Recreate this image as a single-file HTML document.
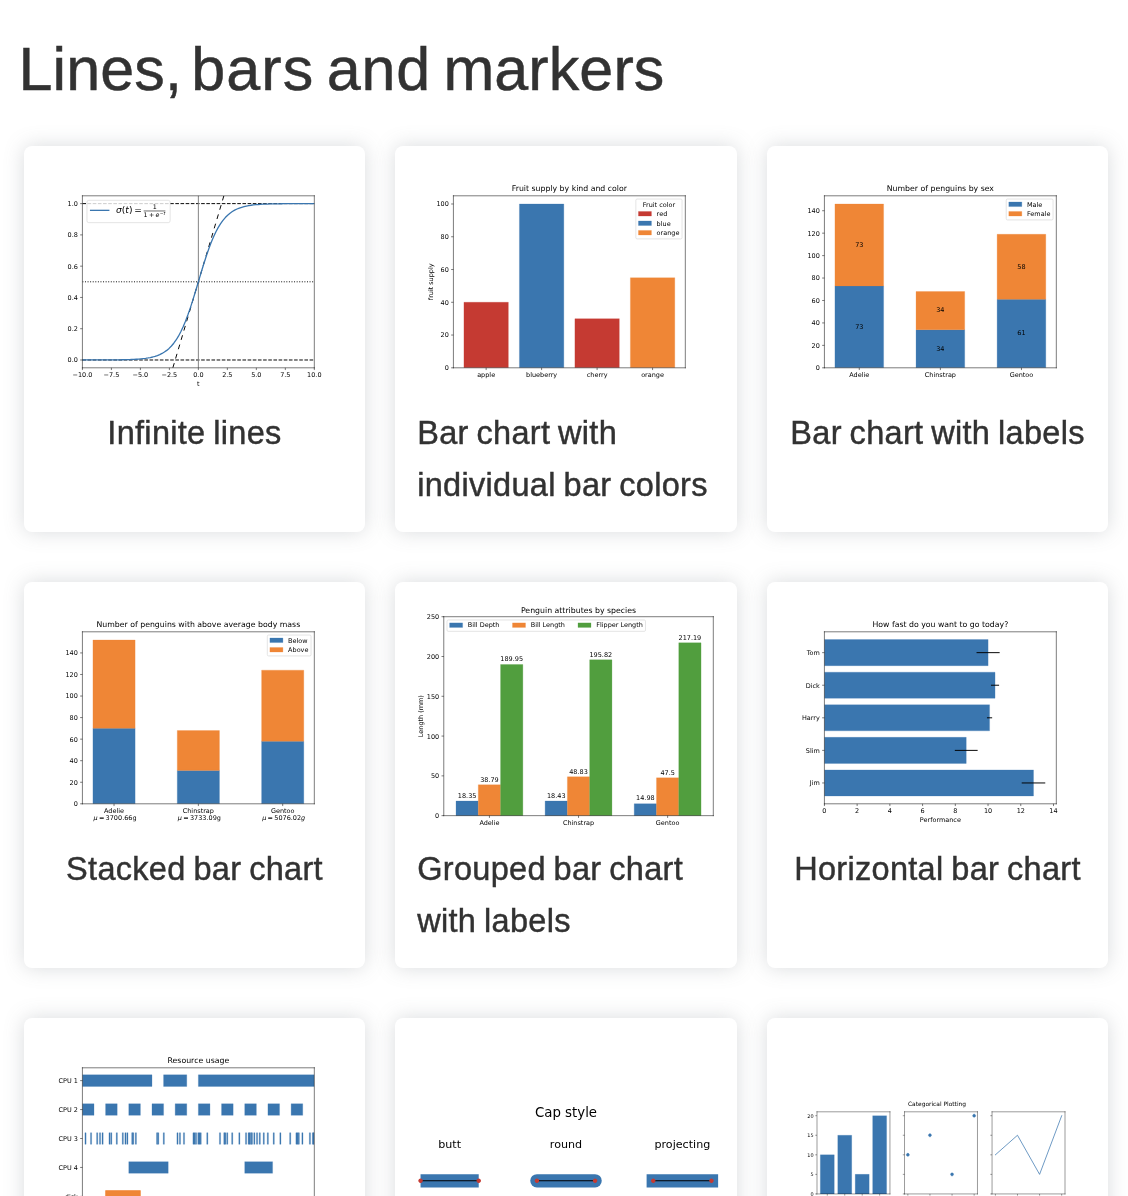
<!DOCTYPE html>
<html lang="en"><head><meta charset="utf-8"><title>Lines, bars and markers</title>
<style>
html,body{margin:0;padding:0;background:#fff;}
body{width:1128px;height:1196px;overflow:hidden;position:relative;font-family:"Liberation Sans",sans-serif;color:#323232;}
h1{position:absolute;left:18.5px;top:29px;margin:0;font-weight:400;font-size:61px;line-height:80px;letter-spacing:0;word-spacing:-4.5px;white-space:nowrap;color:#323232;-webkit-text-stroke:0.5px #323232;}
.card{position:absolute;box-sizing:border-box;height:386px;border-radius:8px;box-shadow:0 0 20px rgba(108,117,125,0.25);background:#fff;}
.title{position:absolute;left:0;right:0;top:261px;text-align:center;font-size:32.5px;line-height:52px;letter-spacing:0.3px;word-spacing:-1.5px;color:#323232;white-space:nowrap;-webkit-text-stroke:0.45px #323232;}
.title.left{text-align:left;left:22.2px;}
svg.mpl{position:absolute;display:block;overflow:hidden;}
svg.mpl *{stroke-linejoin:round;stroke-linecap:butt;}
svg.mpl text{font-family:"DejaVu Sans",sans-serif;}

</style></head><body>
<h1><span style="letter-spacing:.11px">Lines,</span> <span style="letter-spacing:1.1px;margin-left:-3.1px">bars</span> <span style="letter-spacing:.78px">and</span> <span style="letter-spacing:.1px">markers</span></h1>
<div class="card" style="left:24px;top:146px;width:341px"><svg class="mpl" preserveAspectRatio="none" style="left:21.12px;top:22.70px" width="299.25" height="223.38" viewBox="0 0 460.8 345.6"><defs><clipPath id="c1p02d3b5d28d"><rect x="57.6" y="41.472" width="357.12" height="266.112"/></clipPath></defs>
<path d="M 0 345.6 L 460.8 345.6 L 460.8 0 L 0 0 z" style="fill:#ffffff"/>
<path d="M 57.6 307.58 L 414.72 307.58 L 414.72 41.47 L 57.6 41.47 z" style="fill:#ffffff"/>
<path transform="translate(57.6 307.58)" d="M 0 0 L 0 3.5" style="stroke:#000000;stroke-width:0.8"/>
<text x="57.6" y="322.18" style="font-size:10px;text-anchor:middle">−10.0</text>
<path transform="translate(102.24 307.58)" d="M 0 0 L 0 3.5" style="stroke:#000000;stroke-width:0.8"/>
<text x="102.24" y="322.18" style="font-size:10px;text-anchor:middle">−7.5</text>
<path transform="translate(146.88 307.58)" d="M 0 0 L 0 3.5" style="stroke:#000000;stroke-width:0.8"/>
<text x="146.88" y="322.18" style="font-size:10px;text-anchor:middle">−5.0</text>
<path transform="translate(191.52 307.58)" d="M 0 0 L 0 3.5" style="stroke:#000000;stroke-width:0.8"/>
<text x="191.52" y="322.18" style="font-size:10px;text-anchor:middle">−2.5</text>
<path transform="translate(236.16 307.58)" d="M 0 0 L 0 3.5" style="stroke:#000000;stroke-width:0.8"/>
<text x="236.16" y="322.18" style="font-size:10px;text-anchor:middle">0.0</text>
<path transform="translate(280.8 307.58)" d="M 0 0 L 0 3.5" style="stroke:#000000;stroke-width:0.8"/>
<text x="280.8" y="322.18" style="font-size:10px;text-anchor:middle">2.5</text>
<path transform="translate(325.44 307.58)" d="M 0 0 L 0 3.5" style="stroke:#000000;stroke-width:0.8"/>
<text x="325.44" y="322.18" style="font-size:10px;text-anchor:middle">5.0</text>
<path transform="translate(370.08 307.58)" d="M 0 0 L 0 3.5" style="stroke:#000000;stroke-width:0.8"/>
<text x="370.08" y="322.18" style="font-size:10px;text-anchor:middle">7.5</text>
<path transform="translate(414.72 307.58)" d="M 0 0 L 0 3.5" style="stroke:#000000;stroke-width:0.8"/>
<text x="414.72" y="322.18" style="font-size:10px;text-anchor:middle">10.0</text>
<text x="236.16" y="335.86" style="font-size:10px;text-anchor:middle">t</text>
<path transform="translate(57.6 295.49)" d="M 0 0 L -3.5 0" style="stroke:#000000;stroke-width:0.8"/>
<text x="50.6" y="299.29" style="font-size:10px;text-anchor:end">0.0</text>
<path transform="translate(57.6 247.1)" d="M 0 0 L -3.5 0" style="stroke:#000000;stroke-width:0.8"/>
<text x="50.6" y="250.9" style="font-size:10px;text-anchor:end">0.2</text>
<path transform="translate(57.6 198.72)" d="M 0 0 L -3.5 0" style="stroke:#000000;stroke-width:0.8"/>
<text x="50.6" y="202.52" style="font-size:10px;text-anchor:end">0.4</text>
<path transform="translate(57.6 150.34)" d="M 0 0 L -3.5 0" style="stroke:#000000;stroke-width:0.8"/>
<text x="50.6" y="154.14" style="font-size:10px;text-anchor:end">0.6</text>
<path transform="translate(57.6 101.95)" d="M 0 0 L -3.5 0" style="stroke:#000000;stroke-width:0.8"/>
<text x="50.6" y="105.75" style="font-size:10px;text-anchor:end">0.8</text>
<path transform="translate(57.6 53.57)" d="M 0 0 L -3.5 0" style="stroke:#000000;stroke-width:0.8"/>
<text x="50.6" y="57.37" style="font-size:10px;text-anchor:end">1.0</text>
<path d="M 57.6 295.49 L 414.72 295.49" clip-path="url(#c1p02d3b5d28d)" style="fill:none;stroke-dasharray:5.55,2.4;stroke-dashoffset:0;stroke:#000000;stroke-width:1.5"/>
<path d="M 57.6 174.53 L 414.72 174.53" clip-path="url(#c1p02d3b5d28d)" style="fill:none;stroke-dasharray:1.5,2.475;stroke-dashoffset:0;stroke:#000000;stroke-width:1.5"/>
<path d="M 57.6 53.57 L 414.72 53.57" clip-path="url(#c1p02d3b5d28d)" style="fill:none;stroke-dasharray:5.55,2.4;stroke-dashoffset:0;stroke:#000000;stroke-width:1.5"/>
<path d="M 236.16 307.58 L 236.16 41.47" clip-path="url(#c1p02d3b5d28d)" style="fill:none;stroke:#808080;stroke-width:1.5;stroke-linecap:square"/>
<path d="M 196.88 307.58 L 275.44 41.47" clip-path="url(#c1p02d3b5d28d)" style="fill:none;stroke-dasharray:7.5,7.5;stroke-dashoffset:0;stroke:#000000;stroke-width:1.5"/>
<path d="M 57.6 295.48 L 61.21 295.47 L 64.81 295.47 L 68.42 295.47 L 72.03 295.46 L 75.64 295.46 L 79.24 295.45 L 82.85 295.44 L 86.46 295.43 L 90.07 295.42 L 93.67 295.41 L 97.28 295.39 L 100.89 295.36 L 104.49 295.34 L 108.1 295.3 L 111.71 295.26 L 115.32 295.21 L 118.92 295.15 L 122.53 295.07 L 126.14 294.98 L 129.75 294.87 L 133.35 294.73 L 136.96 294.56 L 140.57 294.35 L 144.17 294.1 L 147.78 293.79 L 151.39 293.41 L 155 292.95 L 158.6 292.39 L 162.21 291.7 L 165.82 290.87 L 169.43 289.86 L 173.03 288.64 L 176.64 287.16 L 180.25 285.37 L 183.85 283.22 L 187.46 280.64 L 191.07 277.56 L 194.68 273.9 L 198.28 269.59 L 201.89 264.53 L 205.5 258.66 L 209.11 251.9 L 212.71 244.21 L 216.32 235.57 L 219.93 226.01 L 223.53 215.59 L 227.14 204.44 L 230.75 192.72 L 234.36 180.63 L 237.96 168.42 L 241.57 156.34 L 245.18 144.62 L 248.79 133.46 L 252.39 123.04 L 256 113.48 L 259.61 104.85 L 263.21 97.16 L 266.82 90.4 L 270.43 84.52 L 274.04 79.47 L 277.64 75.15 L 281.25 71.5 L 284.86 68.42 L 288.47 65.84 L 292.07 63.69 L 295.68 61.9 L 299.29 60.42 L 302.89 59.2 L 306.5 58.19 L 310.11 57.35 L 313.72 56.67 L 317.32 56.11 L 320.93 55.65 L 324.54 55.27 L 328.15 54.96 L 331.75 54.71 L 335.36 54.5 L 338.97 54.33 L 342.57 54.19 L 346.18 54.08 L 349.79 53.98 L 353.4 53.91 L 357 53.85 L 360.61 53.8 L 364.22 53.75 L 367.83 53.72 L 371.43 53.69 L 375.04 53.67 L 378.65 53.65 L 382.25 53.64 L 385.86 53.62 L 389.47 53.61 L 393.08 53.6 L 396.68 53.6 L 400.29 53.59 L 403.9 53.59 L 407.51 53.58 L 411.11 53.58 L 414.72 53.58" clip-path="url(#c1p02d3b5d28d)" style="fill:none;stroke:#3a76af;stroke-width:2;stroke-linecap:square"/>
<path d="M 57.6 307.58 L 57.6 41.47" style="fill:none;stroke:#000000;stroke-width:0.8;stroke-linejoin:miter;stroke-linecap:square"/>
<path d="M 414.72 307.58 L 414.72 41.47" style="fill:none;stroke:#000000;stroke-width:0.8;stroke-linejoin:miter;stroke-linecap:square"/>
<path d="M 57.6 307.58 L 414.72 307.58" style="fill:none;stroke:#000000;stroke-width:0.8;stroke-linejoin:miter;stroke-linecap:square"/>
<path d="M 57.6 41.47 L 414.72 41.47" style="fill:none;stroke:#000000;stroke-width:0.8;stroke-linejoin:miter;stroke-linecap:square"/>
<path d="M 67.4 82.97 L 189.9 82.97 Q 192.7 82.97 192.7 80.17 L 192.7 51.27 Q 192.7 48.47 189.9 48.47 L 67.4 48.47 Q 64.6 48.47 64.6 51.27 L 64.6 80.17 Q 64.6 82.97 67.4 82.97 z" style="fill:#ffffff;opacity:0.8;stroke:#cccccc;stroke-linejoin:miter"/>
<path d="M 70.2 63.97 L 84.2 63.97 L 98.2 63.97" style="fill:none;stroke:#3a76af;stroke-width:2;stroke-linecap:square"/>
<g transform="translate(109.4 68.87)">
<text><tspan x="0" y="-0.72" style="font-style:oblique;font-size:14px">σ</tspan><tspan x="14.33" y="-0.72" style="font-style:oblique;font-size:14px">t</tspan><tspan x="8.87" y="-0.72" style="font-size:14px">(</tspan><tspan x="19.82" y="-0.72" style="font-size:14px">)</tspan><tspan x="28.01" y="-0.72" style="font-size:14px">=</tspan><tspan x="42.47" y="6.08" style="font-size:9.8px">1</tspan><tspan x="50.62" y="6.08" style="font-size:9.8px">+</tspan><tspan x="56.47" y="-6.86" style="font-size:9.8px">1</tspan><tspan x="60.74" y="6.08" style="font-style:oblique;font-size:9.8px">e</tspan><tspan x="67.22" y="2.33" style="font-size:6.86px">−</tspan><tspan x="72.97" y="2.33" style="font-style:oblique;font-size:6.86px">t</tspan></text>
<rect x="42.472" y="-4.358" width="33.456" height="0.875"/>
</g>
</svg><div class="title">Infinite lines</div></div>
<div class="card" style="left:395px;top:146px;width:342px"><svg class="mpl" preserveAspectRatio="none" style="left:21.15px;top:22.70px" width="299.25" height="223.38" viewBox="0 0 460.8 345.6"><defs><clipPath id="c2p02d3b5d28d"><rect x="57.6" y="41.472" width="357.12" height="266.112"/></clipPath></defs>
<path d="M 0 345.6 L 460.8 345.6 L 460.8 0 L 0 0 z" style="fill:#ffffff"/>
<path d="M 57.6 307.58 L 414.72 307.58 L 414.72 41.47 L 57.6 41.47 z" style="fill:#ffffff"/>
<path d="M 73.83 307.58 L 142.18 307.58 L 142.18 206.21 L 73.83 206.21 z" clip-path="url(#c2p02d3b5d28d)" style="fill:#c53a32;stroke:#c53a32;stroke-width:0.4"/>
<path d="M 159.27 307.58 L 227.62 307.58 L 227.62 54.14 L 159.27 54.14 z" clip-path="url(#c2p02d3b5d28d)" style="fill:#3a76af;stroke:#3a76af;stroke-width:0.4"/>
<path d="M 244.7 307.58 L 313.05 307.58 L 313.05 231.55 L 244.7 231.55 z" clip-path="url(#c2p02d3b5d28d)" style="fill:#c53a32;stroke:#c53a32;stroke-width:0.4"/>
<path d="M 330.14 307.58 L 398.49 307.58 L 398.49 168.19 L 330.14 168.19 z" clip-path="url(#c2p02d3b5d28d)" style="fill:#ef8636;stroke:#ef8636;stroke-width:0.4"/>
<path transform="translate(108.01 307.58)" d="M 0 0 L 0 3.5" style="stroke:#000000;stroke-width:0.8"/>
<text x="108.01" y="322.18" style="font-size:10px;text-anchor:middle">apple</text>
<path transform="translate(193.44 307.58)" d="M 0 0 L 0 3.5" style="stroke:#000000;stroke-width:0.8"/>
<text x="193.44" y="322.18" style="font-size:10px;text-anchor:middle">blueberry</text>
<path transform="translate(278.88 307.58)" d="M 0 0 L 0 3.5" style="stroke:#000000;stroke-width:0.8"/>
<text x="278.88" y="322.18" style="font-size:10px;text-anchor:middle">cherry</text>
<path transform="translate(364.31 307.58)" d="M 0 0 L 0 3.5" style="stroke:#000000;stroke-width:0.8"/>
<text x="364.31" y="322.18" style="font-size:10px;text-anchor:middle">orange</text>
<path transform="translate(57.6 307.58)" d="M 0 0 L -3.5 0" style="stroke:#000000;stroke-width:0.8"/>
<text x="50.6" y="311.38" style="font-size:10px;text-anchor:end">0</text>
<path transform="translate(57.6 256.9)" d="M 0 0 L -3.5 0" style="stroke:#000000;stroke-width:0.8"/>
<text x="50.6" y="260.7" style="font-size:10px;text-anchor:end">20</text>
<path transform="translate(57.6 206.21)" d="M 0 0 L -3.5 0" style="stroke:#000000;stroke-width:0.8"/>
<text x="50.6" y="210.01" style="font-size:10px;text-anchor:end">40</text>
<path transform="translate(57.6 155.52)" d="M 0 0 L -3.5 0" style="stroke:#000000;stroke-width:0.8"/>
<text x="50.6" y="159.32" style="font-size:10px;text-anchor:end">60</text>
<path transform="translate(57.6 104.83)" d="M 0 0 L -3.5 0" style="stroke:#000000;stroke-width:0.8"/>
<text x="50.6" y="108.63" style="font-size:10px;text-anchor:end">80</text>
<path transform="translate(57.6 54.14)" d="M 0 0 L -3.5 0" style="stroke:#000000;stroke-width:0.8"/>
<text x="50.6" y="57.94" style="font-size:10px;text-anchor:end">100</text>
<text x="25.43" y="174.53" transform="rotate(-90 25.43 174.53)" style="font-size:10px;text-anchor:middle">fruit supply</text>
<path d="M 57.6 307.58 L 57.6 41.47" style="fill:none;stroke:#000000;stroke-width:0.8;stroke-linejoin:miter;stroke-linecap:square"/>
<path d="M 414.72 307.58 L 414.72 41.47" style="fill:none;stroke:#000000;stroke-width:0.8;stroke-linejoin:miter;stroke-linecap:square"/>
<path d="M 57.6 307.58 L 414.72 307.58" style="fill:none;stroke:#000000;stroke-width:0.8;stroke-linejoin:miter;stroke-linecap:square"/>
<path d="M 57.6 41.47 L 414.72 41.47" style="fill:none;stroke:#000000;stroke-width:0.8;stroke-linejoin:miter;stroke-linecap:square"/>
<text x="236.16" y="33.97" style="font-size:12px;text-anchor:middle">Fruit supply by kind and color</text>
<path d="M 340.52 108.18 L 407.72 108.18 Q 409.72 108.18 409.72 106.18 L 409.72 48.47 Q 409.72 46.47 407.72 46.47 L 340.52 46.47 Q 338.52 46.47 338.52 48.47 L 338.52 106.18 Q 338.52 108.18 340.52 108.18 z" style="fill:#ffffff;opacity:0.8;stroke:#cccccc;stroke-linejoin:miter"/>
<text x="349.13" y="58.07" style="font-size:10px;text-anchor:start">Fruit color</text>
<path d="M 342.52 72.75 L 362.52 72.75 L 362.52 65.75 L 342.52 65.75 z" style="fill:#c53a32;stroke:#c53a32;stroke-width:0.4"/>
<text x="370.52" y="72.75" style="font-size:10px;text-anchor:start">red</text>
<path d="M 342.52 87.43 L 362.52 87.43 L 362.52 80.43 L 342.52 80.43 z" style="fill:#3a76af;stroke:#3a76af;stroke-width:0.4"/>
<text x="370.52" y="87.43" style="font-size:10px;text-anchor:start">blue</text>
<path d="M 342.52 102.1 L 362.52 102.1 L 362.52 95.1 L 342.52 95.1 z" style="fill:#ef8636;stroke:#ef8636;stroke-width:0.4"/>
<text x="370.52" y="102.1" style="font-size:10px;text-anchor:start">orange</text>
</svg><div class="title left">Bar chart with<br>individual bar colors</div></div>
<div class="card" style="left:767px;top:146px;width:341px"><svg class="mpl" preserveAspectRatio="none" style="left:20.15px;top:22.70px" width="299.25" height="223.38" viewBox="0 0 460.8 345.6"><defs><clipPath id="c3p02d3b5d28d"><rect x="57.6" y="41.472" width="357.12" height="266.112"/></clipPath></defs>
<path d="M 0 345.6 L 460.8 345.6 L 460.8 0 L 0 0 z" style="fill:#ffffff"/>
<path d="M 57.6 307.58 L 414.72 307.58 L 414.72 41.47 L 57.6 41.47 z" style="fill:#ffffff"/>
<path d="M 73.83 307.58 L 148.75 307.58 L 148.75 180.86 L 73.83 180.86 z" clip-path="url(#c3p02d3b5d28d)" style="fill:#3a76af;stroke:#3a76af;stroke-width:0.4"/>
<path d="M 198.7 307.58 L 273.62 307.58 L 273.62 248.56 L 198.7 248.56 z" clip-path="url(#c3p02d3b5d28d)" style="fill:#3a76af;stroke:#3a76af;stroke-width:0.4"/>
<path d="M 323.57 307.58 L 398.49 307.58 L 398.49 201.69 L 323.57 201.69 z" clip-path="url(#c3p02d3b5d28d)" style="fill:#3a76af;stroke:#3a76af;stroke-width:0.4"/>
<path d="M 73.83 180.86 L 148.75 180.86 L 148.75 54.14 L 73.83 54.14 z" clip-path="url(#c3p02d3b5d28d)" style="fill:#ef8636;stroke:#ef8636;stroke-width:0.4"/>
<path d="M 198.7 248.56 L 273.62 248.56 L 273.62 189.54 L 198.7 189.54 z" clip-path="url(#c3p02d3b5d28d)" style="fill:#ef8636;stroke:#ef8636;stroke-width:0.4"/>
<path d="M 323.57 201.69 L 398.49 201.69 L 398.49 101.01 L 323.57 101.01 z" clip-path="url(#c3p02d3b5d28d)" style="fill:#ef8636;stroke:#ef8636;stroke-width:0.4"/>
<path transform="translate(111.29 307.58)" d="M 0 0 L 0 3.5" style="stroke:#000000;stroke-width:0.8"/>
<text x="111.29" y="322.18" style="font-size:10px;text-anchor:middle">Adelie</text>
<path transform="translate(236.16 307.58)" d="M 0 0 L 0 3.5" style="stroke:#000000;stroke-width:0.8"/>
<text x="236.16" y="322.18" style="font-size:10px;text-anchor:middle">Chinstrap</text>
<path transform="translate(361.03 307.58)" d="M 0 0 L 0 3.5" style="stroke:#000000;stroke-width:0.8"/>
<text x="361.03" y="322.18" style="font-size:10px;text-anchor:middle">Gentoo</text>
<path transform="translate(57.6 307.58)" d="M 0 0 L -3.5 0" style="stroke:#000000;stroke-width:0.8"/>
<text x="50.6" y="311.38" style="font-size:10px;text-anchor:end">0</text>
<path transform="translate(57.6 272.87)" d="M 0 0 L -3.5 0" style="stroke:#000000;stroke-width:0.8"/>
<text x="50.6" y="276.67" style="font-size:10px;text-anchor:end">20</text>
<path transform="translate(57.6 238.15)" d="M 0 0 L -3.5 0" style="stroke:#000000;stroke-width:0.8"/>
<text x="50.6" y="241.95" style="font-size:10px;text-anchor:end">40</text>
<path transform="translate(57.6 203.43)" d="M 0 0 L -3.5 0" style="stroke:#000000;stroke-width:0.8"/>
<text x="50.6" y="207.23" style="font-size:10px;text-anchor:end">60</text>
<path transform="translate(57.6 168.71)" d="M 0 0 L -3.5 0" style="stroke:#000000;stroke-width:0.8"/>
<text x="50.6" y="172.51" style="font-size:10px;text-anchor:end">80</text>
<path transform="translate(57.6 134)" d="M 0 0 L -3.5 0" style="stroke:#000000;stroke-width:0.8"/>
<text x="50.6" y="137.79" style="font-size:10px;text-anchor:end">100</text>
<path transform="translate(57.6 99.28)" d="M 0 0 L -3.5 0" style="stroke:#000000;stroke-width:0.8"/>
<text x="50.6" y="103.08" style="font-size:10px;text-anchor:end">120</text>
<path transform="translate(57.6 64.56)" d="M 0 0 L -3.5 0" style="stroke:#000000;stroke-width:0.8"/>
<text x="50.6" y="68.36" style="font-size:10px;text-anchor:end">140</text>
<path d="M 57.6 307.58 L 57.6 41.47" style="fill:none;stroke:#000000;stroke-width:0.8;stroke-linejoin:miter;stroke-linecap:square"/>
<path d="M 414.72 307.58 L 414.72 41.47" style="fill:none;stroke:#000000;stroke-width:0.8;stroke-linejoin:miter;stroke-linecap:square"/>
<path d="M 57.6 307.58 L 414.72 307.58" style="fill:none;stroke:#000000;stroke-width:0.8;stroke-linejoin:miter;stroke-linecap:square"/>
<path d="M 57.6 41.47 L 414.72 41.47" style="fill:none;stroke:#000000;stroke-width:0.8;stroke-linejoin:miter;stroke-linecap:square"/>
<text x="111.29" y="246.98" style="font-size:10px;text-anchor:middle">73</text>
<text x="236.16" y="280.83" style="font-size:10px;text-anchor:middle">34</text>
<text x="361.03" y="257.4" style="font-size:10px;text-anchor:middle">61</text>
<text x="111.29" y="120.26" style="font-size:10px;text-anchor:middle">73</text>
<text x="236.16" y="221.81" style="font-size:10px;text-anchor:middle">34</text>
<text x="361.03" y="154.11" style="font-size:10px;text-anchor:middle">58</text>
<text x="236.16" y="33.97" style="font-size:12px;text-anchor:middle">Number of penguins by sex</text>
<path d="M 339.57 78.83 L 407.72 78.83 Q 409.72 78.83 409.72 76.83 L 409.72 48.47 Q 409.72 46.47 407.72 46.47 L 339.57 46.47 Q 337.57 46.47 337.57 48.47 L 337.57 76.83 Q 337.57 78.83 339.57 78.83 z" style="fill:#ffffff;opacity:0.8;stroke:#cccccc;stroke-linejoin:miter"/>
<path d="M 341.57 58.07 L 361.57 58.07 L 361.57 51.07 L 341.57 51.07 z" style="fill:#3a76af;stroke:#3a76af;stroke-width:0.4"/>
<text x="369.57" y="58.07" style="font-size:10px;text-anchor:start">Male</text>
<path d="M 341.57 72.75 L 361.57 72.75 L 361.57 65.75 L 341.57 65.75 z" style="fill:#ef8636;stroke:#ef8636;stroke-width:0.4"/>
<text x="369.57" y="72.75" style="font-size:10px;text-anchor:start">Female</text>
</svg><div class="title">Bar chart with labels</div></div>
<div class="card" style="left:24px;top:582px;width:341px"><svg class="mpl" preserveAspectRatio="none" style="left:21.12px;top:22.70px" width="299.25" height="223.38" viewBox="0 0 460.8 345.6"><defs><clipPath id="c4p02d3b5d28d"><rect x="57.6" y="41.472" width="357.12" height="266.112"/></clipPath></defs>
<path d="M 0 345.6 L 460.8 345.6 L 460.8 0 L 0 0 z" style="fill:#ffffff"/>
<path d="M 57.6 307.58 L 414.72 307.58 L 414.72 41.47 L 57.6 41.47 z" style="fill:#ffffff"/>
<path d="M 73.83 307.58 L 138.76 307.58 L 138.76 190.87 L 73.83 190.87 z" clip-path="url(#c4p02d3b5d28d)" style="fill:#3a76af;stroke:#3a76af;stroke-width:0.4"/>
<path d="M 203.69 307.58 L 268.63 307.58 L 268.63 255.9 L 203.69 255.9 z" clip-path="url(#c4p02d3b5d28d)" style="fill:#3a76af;stroke:#3a76af;stroke-width:0.4"/>
<path d="M 333.56 307.58 L 398.49 307.58 L 398.49 210.88 L 333.56 210.88 z" clip-path="url(#c4p02d3b5d28d)" style="fill:#3a76af;stroke:#3a76af;stroke-width:0.4"/>
<path d="M 73.83 190.87 L 138.76 190.87 L 138.76 54.14 L 73.83 54.14 z" clip-path="url(#c4p02d3b5d28d)" style="fill:#ef8636;stroke:#ef8636;stroke-width:0.4"/>
<path d="M 203.69 255.9 L 268.63 255.9 L 268.63 194.2 L 203.69 194.2 z" clip-path="url(#c4p02d3b5d28d)" style="fill:#ef8636;stroke:#ef8636;stroke-width:0.4"/>
<path d="M 333.56 210.88 L 398.49 210.88 L 398.49 100.83 L 333.56 100.83 z" clip-path="url(#c4p02d3b5d28d)" style="fill:#ef8636;stroke:#ef8636;stroke-width:0.4"/>
<path transform="translate(106.3 307.58)" d="M 0 0 L 0 3.5" style="stroke:#000000;stroke-width:0.8"/>
<text transform="translate(90.86 322.18)" style="font-size:10px">Adelie</text>
<g transform="translate(71.5 333.38)">
<text><tspan x="0" y="-0.58" style="font-size:10px"> </tspan><tspan x="11.49" y="-0.58" style="font-size:10px">=</tspan><tspan x="21.82" y="-0.58" style="font-size:10px">3</tspan><tspan x="28.18" y="-0.58" style="font-size:10px">7</tspan><tspan x="34.54" y="-0.58" style="font-size:10px">0</tspan><tspan x="40.9" y="-0.58" style="font-size:10px">0</tspan><tspan x="47.27" y="-0.58" style="font-size:10px">.</tspan><tspan x="50.44" y="-0.58" style="font-size:10px">6</tspan><tspan x="56.81" y="-0.58" style="font-size:10px">6</tspan><tspan x="63.17" y="-0.58" style="font-size:10px">g</tspan><tspan x="3.18" y="-0.58" style="font-style:oblique;font-size:10px">μ</tspan></text>
</g>
<path transform="translate(236.16 307.58)" d="M 0 0 L 0 3.5" style="stroke:#000000;stroke-width:0.8"/>
<text transform="translate(212.08 322.18)" style="font-size:10px">Chinstrap</text>
<g transform="translate(201.36 333.38)">
<text><tspan x="0" y="-0.58" style="font-size:10px"> </tspan><tspan x="11.49" y="-0.58" style="font-size:10px">=</tspan><tspan x="21.82" y="-0.58" style="font-size:10px">3</tspan><tspan x="28.18" y="-0.58" style="font-size:10px">7</tspan><tspan x="34.54" y="-0.58" style="font-size:10px">3</tspan><tspan x="40.9" y="-0.58" style="font-size:10px">3</tspan><tspan x="47.27" y="-0.58" style="font-size:10px">.</tspan><tspan x="50.44" y="-0.58" style="font-size:10px">0</tspan><tspan x="56.81" y="-0.58" style="font-size:10px">9</tspan><tspan x="63.17" y="-0.58" style="font-size:10px">g</tspan><tspan x="3.18" y="-0.58" style="font-style:oblique;font-size:10px">μ</tspan></text>
</g>
<path transform="translate(366.02 307.58)" d="M 0 0 L 0 3.5" style="stroke:#000000;stroke-width:0.8"/>
<text transform="translate(347.82 322.18)" style="font-size:10px">Gentoo</text>
<g transform="translate(331.22 333.38)">
<text><tspan x="0" y="-0.58" style="font-size:10px"> </tspan><tspan x="11.49" y="-0.58" style="font-size:10px">=</tspan><tspan x="21.82" y="-0.58" style="font-size:10px">5</tspan><tspan x="28.18" y="-0.58" style="font-size:10px">0</tspan><tspan x="34.54" y="-0.58" style="font-size:10px">7</tspan><tspan x="40.9" y="-0.58" style="font-size:10px">6</tspan><tspan x="47.27" y="-0.58" style="font-size:10px">.</tspan><tspan x="50.44" y="-0.58" style="font-size:10px">0</tspan><tspan x="56.81" y="-0.58" style="font-size:10px">2</tspan><tspan x="3.18" y="-0.58" style="font-style:oblique;font-size:10px">μ</tspan><tspan x="63.17" y="-0.58" style="font-style:oblique;font-size:10px">g</tspan></text>
</g>
<path transform="translate(57.6 307.58)" d="M 0 0 L -3.5 0" style="stroke:#000000;stroke-width:0.8"/>
<text x="50.6" y="311.38" style="font-size:10px;text-anchor:end">0</text>
<path transform="translate(57.6 274.24)" d="M 0 0 L -3.5 0" style="stroke:#000000;stroke-width:0.8"/>
<text x="50.6" y="278.04" style="font-size:10px;text-anchor:end">20</text>
<path transform="translate(57.6 240.89)" d="M 0 0 L -3.5 0" style="stroke:#000000;stroke-width:0.8"/>
<text x="50.6" y="244.69" style="font-size:10px;text-anchor:end">40</text>
<path transform="translate(57.6 207.54)" d="M 0 0 L -3.5 0" style="stroke:#000000;stroke-width:0.8"/>
<text x="50.6" y="211.34" style="font-size:10px;text-anchor:end">60</text>
<path transform="translate(57.6 174.19)" d="M 0 0 L -3.5 0" style="stroke:#000000;stroke-width:0.8"/>
<text x="50.6" y="177.99" style="font-size:10px;text-anchor:end">80</text>
<path transform="translate(57.6 140.85)" d="M 0 0 L -3.5 0" style="stroke:#000000;stroke-width:0.8"/>
<text x="50.6" y="144.65" style="font-size:10px;text-anchor:end">100</text>
<path transform="translate(57.6 107.5)" d="M 0 0 L -3.5 0" style="stroke:#000000;stroke-width:0.8"/>
<text x="50.6" y="111.3" style="font-size:10px;text-anchor:end">120</text>
<path transform="translate(57.6 74.15)" d="M 0 0 L -3.5 0" style="stroke:#000000;stroke-width:0.8"/>
<text x="50.6" y="77.95" style="font-size:10px;text-anchor:end">140</text>
<path d="M 57.6 307.58 L 57.6 41.47" style="fill:none;stroke:#000000;stroke-width:0.8;stroke-linejoin:miter;stroke-linecap:square"/>
<path d="M 414.72 307.58 L 414.72 41.47" style="fill:none;stroke:#000000;stroke-width:0.8;stroke-linejoin:miter;stroke-linecap:square"/>
<path d="M 57.6 307.58 L 414.72 307.58" style="fill:none;stroke:#000000;stroke-width:0.8;stroke-linejoin:miter;stroke-linecap:square"/>
<path d="M 57.6 41.47 L 414.72 41.47" style="fill:none;stroke:#000000;stroke-width:0.8;stroke-linejoin:miter;stroke-linecap:square"/>
<text x="236.16" y="33.97" style="font-size:12px;text-anchor:middle">Number of penguins with above average body mass</text>
<path d="M 344.34 78.83 L 407.72 78.83 Q 409.72 78.83 409.72 76.83 L 409.72 48.47 Q 409.72 46.47 407.72 46.47 L 344.34 46.47 Q 342.34 46.47 342.34 48.47 L 342.34 76.83 Q 342.34 78.83 344.34 78.83 z" style="fill:#ffffff;opacity:0.8;stroke:#cccccc;stroke-linejoin:miter"/>
<path d="M 346.34 58.07 L 366.34 58.07 L 366.34 51.07 L 346.34 51.07 z" style="fill:#3a76af;stroke:#3a76af;stroke-width:0.4"/>
<text x="374.34" y="58.07" style="font-size:10px;text-anchor:start">Below</text>
<path d="M 346.34 72.75 L 366.34 72.75 L 366.34 65.75 L 346.34 65.75 z" style="fill:#ef8636;stroke:#ef8636;stroke-width:0.4"/>
<text x="374.34" y="72.75" style="font-size:10px;text-anchor:start">Above</text>
</svg><div class="title">Stacked bar chart</div></div>
<div class="card" style="left:395px;top:582px;width:342px"><svg class="mpl" preserveAspectRatio="none" style="left:21.15px;top:22.70px" width="299.25" height="223.38" viewBox="0 0 460.8 345.6"><defs><clipPath id="c5p0af74d49fc"><rect x="42.766" y="18.118" width="415.034" height="307.803"/></clipPath></defs>
<path d="M 0 345.6 L 460.8 345.6 L 460.8 0 L 0 0 z" style="fill:#ffffff"/>
<path d="M 42.77 325.92 L 457.8 325.92 L 457.8 18.12 L 42.77 18.12 z" style="fill:#ffffff"/>
<path d="M 61.63 325.92 L 95.93 325.92 L 95.93 303.33 L 61.63 303.33 z" clip-path="url(#c5p0af74d49fc)" style="fill:#3a76af;stroke:#3a76af;stroke-width:0.4"/>
<path d="M 198.83 325.92 L 233.13 325.92 L 233.13 303.23 L 198.83 303.23 z" clip-path="url(#c5p0af74d49fc)" style="fill:#3a76af;stroke:#3a76af;stroke-width:0.4"/>
<path d="M 336.03 325.92 L 370.33 325.92 L 370.33 307.48 L 336.03 307.48 z" clip-path="url(#c5p0af74d49fc)" style="fill:#3a76af;stroke:#3a76af;stroke-width:0.4"/>
<path d="M 95.93 325.92 L 130.23 325.92 L 130.23 278.16 L 95.93 278.16 z" clip-path="url(#c5p0af74d49fc)" style="fill:#ef8636;stroke:#ef8636;stroke-width:0.4"/>
<path d="M 233.13 325.92 L 267.43 325.92 L 267.43 265.8 L 233.13 265.8 z" clip-path="url(#c5p0af74d49fc)" style="fill:#ef8636;stroke:#ef8636;stroke-width:0.4"/>
<path d="M 370.33 325.92 L 404.63 325.92 L 404.63 267.44 L 370.33 267.44 z" clip-path="url(#c5p0af74d49fc)" style="fill:#ef8636;stroke:#ef8636;stroke-width:0.4"/>
<path d="M 130.23 325.92 L 164.53 325.92 L 164.53 92.05 L 130.23 92.05 z" clip-path="url(#c5p0af74d49fc)" style="fill:#519e3e;stroke:#519e3e;stroke-width:0.4"/>
<path d="M 267.43 325.92 L 301.73 325.92 L 301.73 84.83 L 267.43 84.83 z" clip-path="url(#c5p0af74d49fc)" style="fill:#519e3e;stroke:#519e3e;stroke-width:0.4"/>
<path d="M 404.63 325.92 L 438.93 325.92 L 438.93 58.51 L 404.63 58.51 z" clip-path="url(#c5p0af74d49fc)" style="fill:#519e3e;stroke:#519e3e;stroke-width:0.4"/>
<path transform="translate(113.08 325.92)" d="M 0 0 L 0 3.5" style="stroke:#000000;stroke-width:0.8"/>
<text x="113.08" y="340.52" style="font-size:10px;text-anchor:middle">Adelie</text>
<path transform="translate(250.28 325.92)" d="M 0 0 L 0 3.5" style="stroke:#000000;stroke-width:0.8"/>
<text x="250.28" y="340.52" style="font-size:10px;text-anchor:middle">Chinstrap</text>
<path transform="translate(387.48 325.92)" d="M 0 0 L 0 3.5" style="stroke:#000000;stroke-width:0.8"/>
<text x="387.48" y="340.52" style="font-size:10px;text-anchor:middle">Gentoo</text>
<path transform="translate(42.77 325.92)" d="M 0 0 L -3.5 0" style="stroke:#000000;stroke-width:0.8"/>
<text x="35.77" y="329.72" style="font-size:10px;text-anchor:end">0</text>
<path transform="translate(42.77 264.36)" d="M 0 0 L -3.5 0" style="stroke:#000000;stroke-width:0.8"/>
<text x="35.77" y="268.16" style="font-size:10px;text-anchor:end">50</text>
<path transform="translate(42.77 202.8)" d="M 0 0 L -3.5 0" style="stroke:#000000;stroke-width:0.8"/>
<text x="35.77" y="206.6" style="font-size:10px;text-anchor:end">100</text>
<path transform="translate(42.77 141.24)" d="M 0 0 L -3.5 0" style="stroke:#000000;stroke-width:0.8"/>
<text x="35.77" y="145.04" style="font-size:10px;text-anchor:end">150</text>
<path transform="translate(42.77 79.68)" d="M 0 0 L -3.5 0" style="stroke:#000000;stroke-width:0.8"/>
<text x="35.77" y="83.48" style="font-size:10px;text-anchor:end">200</text>
<path transform="translate(42.77 18.12)" d="M 0 0 L -3.5 0" style="stroke:#000000;stroke-width:0.8"/>
<text x="35.77" y="21.92" style="font-size:10px;text-anchor:end">250</text>
<text x="10.6" y="172.02" transform="rotate(-90 10.6 172.02)" style="font-size:10px;text-anchor:middle">Length (mm)</text>
<path d="M 42.77 325.92 L 42.77 18.12" style="fill:none;stroke:#000000;stroke-width:0.8;stroke-linejoin:miter;stroke-linecap:square"/>
<path d="M 457.8 325.92 L 457.8 18.12" style="fill:none;stroke:#000000;stroke-width:0.8;stroke-linejoin:miter;stroke-linecap:square"/>
<path d="M 42.77 325.92 L 457.8 325.92" style="fill:none;stroke:#000000;stroke-width:0.8;stroke-linejoin:miter;stroke-linecap:square"/>
<path d="M 42.77 18.12 L 457.8 18.12" style="fill:none;stroke:#000000;stroke-width:0.8;stroke-linejoin:miter;stroke-linecap:square"/>
<text x="78.78" y="298.25" style="font-size:10px;text-anchor:middle">18.35</text>
<text x="215.98" y="298.15" style="font-size:10px;text-anchor:middle">18.43</text>
<text x="353.18" y="302.4" style="font-size:10px;text-anchor:middle">14.98</text>
<text x="113.08" y="273.08" style="font-size:10px;text-anchor:middle">38.79</text>
<text x="250.28" y="260.72" style="font-size:10px;text-anchor:middle">48.83</text>
<text x="387.48" y="262.36" style="font-size:10px;text-anchor:middle">47.5</text>
<text x="147.38" y="86.97" style="font-size:10px;text-anchor:middle">189.95</text>
<text x="284.58" y="79.75" style="font-size:10px;text-anchor:middle">195.82</text>
<text x="421.78" y="53.43" style="font-size:10px;text-anchor:middle">217.19</text>
<text x="250.28" y="12.12" style="font-size:12px;text-anchor:middle">Penguin attributes by species</text>
<path d="M 49.77 40.8 L 351.41 40.8 Q 353.41 40.8 353.41 38.8 L 353.41 25.12 Q 353.41 23.12 351.41 23.12 L 49.77 23.12 Q 47.77 23.12 47.77 25.12 L 47.77 38.8 Q 47.77 40.8 49.77 40.8 z" style="fill:#ffffff;opacity:0.8;stroke:#cccccc;stroke-linejoin:miter"/>
<path d="M 51.77 34.72 L 71.77 34.72 L 71.77 27.72 L 51.77 27.72 z" style="fill:#3a76af;stroke:#3a76af;stroke-width:0.4"/>
<text x="79.77" y="34.72" style="font-size:10px;text-anchor:start">Bill Depth</text>
<path d="M 148.6 34.72 L 168.6 34.72 L 168.6 27.72 L 148.6 27.72 z" style="fill:#ef8636;stroke:#ef8636;stroke-width:0.4"/>
<text x="176.6" y="34.72" style="font-size:10px;text-anchor:start">Bill Length</text>
<path d="M 249.47 34.72 L 269.47 34.72 L 269.47 27.72 L 249.47 27.72 z" style="fill:#519e3e;stroke:#519e3e;stroke-width:0.4"/>
<text x="277.47" y="34.72" style="font-size:10px;text-anchor:start">Flipper Length</text>
</svg><div class="title left">Grouped bar chart<br>with labels</div></div>
<div class="card" style="left:767px;top:582px;width:341px"><svg class="mpl" preserveAspectRatio="none" style="left:20.15px;top:22.70px" width="299.25" height="223.38" viewBox="0 0 460.8 345.6"><defs><clipPath id="c6p02d3b5d28d"><rect x="57.6" y="41.472" width="357.12" height="266.112"/></clipPath></defs>
<path d="M 0 345.6 L 460.8 345.6 L 460.8 0 L 0 0 z" style="fill:#ffffff"/>
<path d="M 57.6 307.58 L 414.72 307.58 L 414.72 41.47 L 57.6 41.47 z" style="fill:#ffffff"/>
<path d="M 57.6 53.57 L 309.67 53.57 L 309.67 93.89 L 57.6 93.89 z" clip-path="url(#c6p02d3b5d28d)" style="fill:#3a76af;stroke:#3a76af;stroke-width:0.4"/>
<path d="M 57.6 103.97 L 320.35 103.97 L 320.35 144.29 L 57.6 144.29 z" clip-path="url(#c6p02d3b5d28d)" style="fill:#3a76af;stroke:#3a76af;stroke-width:0.4"/>
<path d="M 57.6 154.37 L 311.92 154.37 L 311.92 194.69 L 57.6 194.69 z" clip-path="url(#c6p02d3b5d28d)" style="fill:#3a76af;stroke:#3a76af;stroke-width:0.4"/>
<path d="M 57.6 204.77 L 276 204.77 L 276 245.09 L 57.6 245.09 z" clip-path="url(#c6p02d3b5d28d)" style="fill:#3a76af;stroke:#3a76af;stroke-width:0.4"/>
<path d="M 57.6 255.17 L 379.57 255.17 L 379.57 295.49 L 57.6 295.49 z" clip-path="url(#c6p02d3b5d28d)" style="fill:#3a76af;stroke:#3a76af;stroke-width:0.4"/>
<path transform="translate(57.6 307.58)" d="M 0 0 L 0 3.5" style="stroke:#000000;stroke-width:0.8"/>
<text x="57.6" y="322.18" style="font-size:10px;text-anchor:middle">0</text>
<path transform="translate(108 307.58)" d="M 0 0 L 0 3.5" style="stroke:#000000;stroke-width:0.8"/>
<text x="108" y="322.18" style="font-size:10px;text-anchor:middle">2</text>
<path transform="translate(158.39 307.58)" d="M 0 0 L 0 3.5" style="stroke:#000000;stroke-width:0.8"/>
<text x="158.39" y="322.18" style="font-size:10px;text-anchor:middle">4</text>
<path transform="translate(208.79 307.58)" d="M 0 0 L 0 3.5" style="stroke:#000000;stroke-width:0.8"/>
<text x="208.79" y="322.18" style="font-size:10px;text-anchor:middle">6</text>
<path transform="translate(259.18 307.58)" d="M 0 0 L 0 3.5" style="stroke:#000000;stroke-width:0.8"/>
<text x="259.18" y="322.18" style="font-size:10px;text-anchor:middle">8</text>
<path transform="translate(309.58 307.58)" d="M 0 0 L 0 3.5" style="stroke:#000000;stroke-width:0.8"/>
<text x="309.58" y="322.18" style="font-size:10px;text-anchor:middle">10</text>
<path transform="translate(359.97 307.58)" d="M 0 0 L 0 3.5" style="stroke:#000000;stroke-width:0.8"/>
<text x="359.97" y="322.18" style="font-size:10px;text-anchor:middle">12</text>
<path transform="translate(410.37 307.58)" d="M 0 0 L 0 3.5" style="stroke:#000000;stroke-width:0.8"/>
<text x="410.37" y="322.18" style="font-size:10px;text-anchor:middle">14</text>
<text x="236.16" y="335.86" style="font-size:10px;text-anchor:middle">Performance</text>
<path transform="translate(57.6 73.73)" d="M 0 0 L -3.5 0" style="stroke:#000000;stroke-width:0.8"/>
<text x="50.6" y="77.53" style="font-size:10px;text-anchor:end">Tom</text>
<path transform="translate(57.6 124.13)" d="M 0 0 L -3.5 0" style="stroke:#000000;stroke-width:0.8"/>
<text x="50.6" y="127.93" style="font-size:10px;text-anchor:end">Dick</text>
<path transform="translate(57.6 174.53)" d="M 0 0 L -3.5 0" style="stroke:#000000;stroke-width:0.8"/>
<text x="50.6" y="178.33" style="font-size:10px;text-anchor:end">Harry</text>
<path transform="translate(57.6 224.93)" d="M 0 0 L -3.5 0" style="stroke:#000000;stroke-width:0.8"/>
<text x="50.6" y="228.73" style="font-size:10px;text-anchor:end">Slim</text>
<path transform="translate(57.6 275.33)" d="M 0 0 L -3.5 0" style="stroke:#000000;stroke-width:0.8"/>
<text x="50.6" y="279.13" style="font-size:10px;text-anchor:end">Jim</text>
<path d="M 291.87 73.73 L 327.47 73.73" clip-path="url(#c6p02d3b5d28d)" style="fill:none;stroke:#000000;stroke-width:1.5"/>
<path d="M 314.1 124.13 L 326.6 124.13" clip-path="url(#c6p02d3b5d28d)" style="fill:none;stroke:#000000;stroke-width:1.5"/>
<path d="M 307.94 174.53 L 315.89 174.53" clip-path="url(#c6p02d3b5d28d)" style="fill:none;stroke:#000000;stroke-width:1.5"/>
<path d="M 258.42 224.93 L 293.58 224.93" clip-path="url(#c6p02d3b5d28d)" style="fill:none;stroke:#000000;stroke-width:1.5"/>
<path d="M 361.43 275.33 L 397.71 275.33" clip-path="url(#c6p02d3b5d28d)" style="fill:none;stroke:#000000;stroke-width:1.5"/>
<path d="M 57.6 307.58 L 57.6 41.47" style="fill:none;stroke:#000000;stroke-width:0.8;stroke-linejoin:miter;stroke-linecap:square"/>
<path d="M 414.72 307.58 L 414.72 41.47" style="fill:none;stroke:#000000;stroke-width:0.8;stroke-linejoin:miter;stroke-linecap:square"/>
<path d="M 57.6 307.58 L 414.72 307.58" style="fill:none;stroke:#000000;stroke-width:0.8;stroke-linejoin:miter;stroke-linecap:square"/>
<path d="M 57.6 41.47 L 414.72 41.47" style="fill:none;stroke:#000000;stroke-width:0.8;stroke-linejoin:miter;stroke-linecap:square"/>
<text x="236.16" y="33.97" style="font-size:12px;text-anchor:middle">How fast do you want to go today?</text>
</svg><div class="title">Horizontal bar chart</div></div>
<div class="card" style="left:24px;top:1018px;width:341px"><svg class="mpl" preserveAspectRatio="none" style="left:21.12px;top:22.70px" width="299.25" height="223.38" viewBox="0 0 460.8 345.6"><defs><clipPath id="c7p02d3b5d28d"><rect x="57.6" y="41.472" width="357.12" height="266.112"/></clipPath></defs>
<path d="M 0 345.6 L 460.8 345.6 L 460.8 0 L 0 0 z" style="fill:#ffffff"/>
<path d="M 57.6 307.58 L 414.72 307.58 L 414.72 41.47 L 57.6 41.47 z" style="fill:#ffffff"/>
<path d="M 57.6 52.35 L 57.6 70.26 L 164.74 70.26 L 164.74 52.35 z" clip-path="url(#c7p02d3b5d28d)" style="fill:#3a76af;stroke:#3a76af;stroke-width:0.4"/>
<path d="M 182.59 52.35 L 182.59 70.26 L 218.3 70.26 L 218.3 52.35 z" clip-path="url(#c7p02d3b5d28d)" style="fill:#3a76af;stroke:#3a76af;stroke-width:0.4"/>
<path d="M 236.16 52.35 L 236.16 70.26 L 414.72 70.26 L 414.72 52.35 z" clip-path="url(#c7p02d3b5d28d)" style="fill:#3a76af;stroke:#3a76af;stroke-width:0.4"/>
<path d="M 57.6 97.13 L 57.6 115.04 L 75.46 115.04 L 75.46 97.13 z" clip-path="url(#c7p02d3b5d28d)" style="fill:#3a76af;stroke:#3a76af;stroke-width:0.4"/>
<path d="M 93.31 97.13 L 93.31 115.04 L 111.17 115.04 L 111.17 97.13 z" clip-path="url(#c7p02d3b5d28d)" style="fill:#3a76af;stroke:#3a76af;stroke-width:0.4"/>
<path d="M 129.02 97.13 L 129.02 115.04 L 146.88 115.04 L 146.88 97.13 z" clip-path="url(#c7p02d3b5d28d)" style="fill:#3a76af;stroke:#3a76af;stroke-width:0.4"/>
<path d="M 164.74 97.13 L 164.74 115.04 L 182.59 115.04 L 182.59 97.13 z" clip-path="url(#c7p02d3b5d28d)" style="fill:#3a76af;stroke:#3a76af;stroke-width:0.4"/>
<path d="M 200.45 97.13 L 200.45 115.04 L 218.3 115.04 L 218.3 97.13 z" clip-path="url(#c7p02d3b5d28d)" style="fill:#3a76af;stroke:#3a76af;stroke-width:0.4"/>
<path d="M 236.16 97.13 L 236.16 115.04 L 254.02 115.04 L 254.02 97.13 z" clip-path="url(#c7p02d3b5d28d)" style="fill:#3a76af;stroke:#3a76af;stroke-width:0.4"/>
<path d="M 271.87 97.13 L 271.87 115.04 L 289.73 115.04 L 289.73 97.13 z" clip-path="url(#c7p02d3b5d28d)" style="fill:#3a76af;stroke:#3a76af;stroke-width:0.4"/>
<path d="M 307.58 97.13 L 307.58 115.04 L 325.44 115.04 L 325.44 97.13 z" clip-path="url(#c7p02d3b5d28d)" style="fill:#3a76af;stroke:#3a76af;stroke-width:0.4"/>
<path d="M 343.3 97.13 L 343.3 115.04 L 361.15 115.04 L 361.15 97.13 z" clip-path="url(#c7p02d3b5d28d)" style="fill:#3a76af;stroke:#3a76af;stroke-width:0.4"/>
<path d="M 379.01 97.13 L 379.01 115.04 L 396.86 115.04 L 396.86 97.13 z" clip-path="url(#c7p02d3b5d28d)" style="fill:#3a76af;stroke:#3a76af;stroke-width:0.4"/>
<path d="M 61.49 141.91 L 61.49 159.82 L 63.28 159.82 L 63.28 141.91 z" clip-path="url(#c7p02d3b5d28d)" style="fill:#3a76af;stroke:#3a76af;stroke-width:0.4"/>
<path d="M 70.03 141.91 L 70.03 159.82 L 71.81 159.82 L 71.81 141.91 z" clip-path="url(#c7p02d3b5d28d)" style="fill:#3a76af;stroke:#3a76af;stroke-width:0.4"/>
<path d="M 79.46 141.91 L 79.46 159.82 L 81.24 159.82 L 81.24 141.91 z" clip-path="url(#c7p02d3b5d28d)" style="fill:#3a76af;stroke:#3a76af;stroke-width:0.4"/>
<path d="M 83.85 141.91 L 83.85 159.82 L 85.63 159.82 L 85.63 141.91 z" clip-path="url(#c7p02d3b5d28d)" style="fill:#3a76af;stroke:#3a76af;stroke-width:0.4"/>
<path d="M 87.78 141.91 L 87.78 159.82 L 89.56 159.82 L 89.56 141.91 z" clip-path="url(#c7p02d3b5d28d)" style="fill:#3a76af;stroke:#3a76af;stroke-width:0.4"/>
<path d="M 98.49 141.91 L 98.49 159.82 L 100.28 159.82 L 100.28 141.91 z" clip-path="url(#c7p02d3b5d28d)" style="fill:#3a76af;stroke:#3a76af;stroke-width:0.4"/>
<path d="M 101.17 141.91 L 101.17 159.82 L 102.95 159.82 L 102.95 141.91 z" clip-path="url(#c7p02d3b5d28d)" style="fill:#3a76af;stroke:#3a76af;stroke-width:0.4"/>
<path d="M 109.67 141.91 L 109.67 159.82 L 111.45 159.82 L 111.45 141.91 z" clip-path="url(#c7p02d3b5d28d)" style="fill:#3a76af;stroke:#3a76af;stroke-width:0.4"/>
<path d="M 118.92 141.91 L 118.92 159.82 L 120.7 159.82 L 120.7 141.91 z" clip-path="url(#c7p02d3b5d28d)" style="fill:#3a76af;stroke:#3a76af;stroke-width:0.4"/>
<path d="M 123.02 141.91 L 123.02 159.82 L 124.81 159.82 L 124.81 141.91 z" clip-path="url(#c7p02d3b5d28d)" style="fill:#3a76af;stroke:#3a76af;stroke-width:0.4"/>
<path d="M 125.99 141.91 L 125.99 159.82 L 127.77 159.82 L 127.77 141.91 z" clip-path="url(#c7p02d3b5d28d)" style="fill:#3a76af;stroke:#3a76af;stroke-width:0.4"/>
<path d="M 133.49 141.91 L 133.49 159.82 L 135.27 159.82 L 135.27 141.91 z" clip-path="url(#c7p02d3b5d28d)" style="fill:#3a76af;stroke:#3a76af;stroke-width:0.4"/>
<path d="M 134.92 141.91 L 134.92 159.82 L 136.7 159.82 L 136.7 141.91 z" clip-path="url(#c7p02d3b5d28d)" style="fill:#3a76af;stroke:#3a76af;stroke-width:0.4"/>
<path d="M 139.02 141.91 L 139.02 159.82 L 140.81 159.82 L 140.81 141.91 z" clip-path="url(#c7p02d3b5d28d)" style="fill:#3a76af;stroke:#3a76af;stroke-width:0.4"/>
<path d="M 171.7 141.91 L 171.7 159.82 L 173.49 159.82 L 173.49 141.91 z" clip-path="url(#c7p02d3b5d28d)" style="fill:#3a76af;stroke:#3a76af;stroke-width:0.4"/>
<path d="M 173.49 141.91 L 173.49 159.82 L 175.27 159.82 L 175.27 141.91 z" clip-path="url(#c7p02d3b5d28d)" style="fill:#3a76af;stroke:#3a76af;stroke-width:0.4"/>
<path d="M 182.06 141.91 L 182.06 159.82 L 183.84 159.82 L 183.84 141.91 z" clip-path="url(#c7p02d3b5d28d)" style="fill:#3a76af;stroke:#3a76af;stroke-width:0.4"/>
<path d="M 203.13 141.91 L 203.13 159.82 L 204.91 159.82 L 204.91 141.91 z" clip-path="url(#c7p02d3b5d28d)" style="fill:#3a76af;stroke:#3a76af;stroke-width:0.4"/>
<path d="M 206.91 141.91 L 206.91 159.82 L 208.7 159.82 L 208.7 141.91 z" clip-path="url(#c7p02d3b5d28d)" style="fill:#3a76af;stroke:#3a76af;stroke-width:0.4"/>
<path d="M 213.13 141.91 L 213.13 159.82 L 214.91 159.82 L 214.91 141.91 z" clip-path="url(#c7p02d3b5d28d)" style="fill:#3a76af;stroke:#3a76af;stroke-width:0.4"/>
<path d="M 227.77 141.91 L 227.77 159.82 L 229.55 159.82 L 229.55 141.91 z" clip-path="url(#c7p02d3b5d28d)" style="fill:#3a76af;stroke:#3a76af;stroke-width:0.4"/>
<path d="M 229.55 141.91 L 229.55 159.82 L 231.34 159.82 L 231.34 141.91 z" clip-path="url(#c7p02d3b5d28d)" style="fill:#3a76af;stroke:#3a76af;stroke-width:0.4"/>
<path d="M 231.7 141.91 L 231.7 159.82 L 233.48 159.82 L 233.48 141.91 z" clip-path="url(#c7p02d3b5d28d)" style="fill:#3a76af;stroke:#3a76af;stroke-width:0.4"/>
<path d="M 235.27 141.91 L 235.27 159.82 L 237.05 159.82 L 237.05 141.91 z" clip-path="url(#c7p02d3b5d28d)" style="fill:#3a76af;stroke:#3a76af;stroke-width:0.4"/>
<path d="M 237.05 141.91 L 237.05 159.82 L 238.84 159.82 L 238.84 141.91 z" clip-path="url(#c7p02d3b5d28d)" style="fill:#3a76af;stroke:#3a76af;stroke-width:0.4"/>
<path d="M 238.84 141.91 L 238.84 159.82 L 240.62 159.82 L 240.62 141.91 z" clip-path="url(#c7p02d3b5d28d)" style="fill:#3a76af;stroke:#3a76af;stroke-width:0.4"/>
<path d="M 249.05 141.91 L 249.05 159.82 L 250.84 159.82 L 250.84 141.91 z" clip-path="url(#c7p02d3b5d28d)" style="fill:#3a76af;stroke:#3a76af;stroke-width:0.4"/>
<path d="M 268.59 141.91 L 268.59 159.82 L 270.37 159.82 L 270.37 141.91 z" clip-path="url(#c7p02d3b5d28d)" style="fill:#3a76af;stroke:#3a76af;stroke-width:0.4"/>
<path d="M 275.26 141.91 L 275.26 159.82 L 277.05 159.82 L 277.05 141.91 z" clip-path="url(#c7p02d3b5d28d)" style="fill:#3a76af;stroke:#3a76af;stroke-width:0.4"/>
<path d="M 276.69 141.91 L 276.69 159.82 L 278.48 159.82 L 278.48 141.91 z" clip-path="url(#c7p02d3b5d28d)" style="fill:#3a76af;stroke:#3a76af;stroke-width:0.4"/>
<path d="M 279.76 141.91 L 279.76 159.82 L 281.55 159.82 L 281.55 141.91 z" clip-path="url(#c7p02d3b5d28d)" style="fill:#3a76af;stroke:#3a76af;stroke-width:0.4"/>
<path d="M 287.41 141.91 L 287.41 159.82 L 289.19 159.82 L 289.19 141.91 z" clip-path="url(#c7p02d3b5d28d)" style="fill:#3a76af;stroke:#3a76af;stroke-width:0.4"/>
<path d="M 298.41 141.91 L 298.41 159.82 L 300.19 159.82 L 300.19 141.91 z" clip-path="url(#c7p02d3b5d28d)" style="fill:#3a76af;stroke:#3a76af;stroke-width:0.4"/>
<path d="M 308.69 141.91 L 308.69 159.82 L 310.48 159.82 L 310.48 141.91 z" clip-path="url(#c7p02d3b5d28d)" style="fill:#3a76af;stroke:#3a76af;stroke-width:0.4"/>
<path d="M 312.76 141.91 L 312.76 159.82 L 314.55 159.82 L 314.55 141.91 z" clip-path="url(#c7p02d3b5d28d)" style="fill:#3a76af;stroke:#3a76af;stroke-width:0.4"/>
<path d="M 314.19 141.91 L 314.19 159.82 L 315.98 159.82 L 315.98 141.91 z" clip-path="url(#c7p02d3b5d28d)" style="fill:#3a76af;stroke:#3a76af;stroke-width:0.4"/>
<path d="M 316.33 141.91 L 316.33 159.82 L 318.12 159.82 L 318.12 141.91 z" clip-path="url(#c7p02d3b5d28d)" style="fill:#3a76af;stroke:#3a76af;stroke-width:0.4"/>
<path d="M 317.76 141.91 L 317.76 159.82 L 319.55 159.82 L 319.55 141.91 z" clip-path="url(#c7p02d3b5d28d)" style="fill:#3a76af;stroke:#3a76af;stroke-width:0.4"/>
<path d="M 321.48 141.91 L 321.48 159.82 L 323.26 159.82 L 323.26 141.91 z" clip-path="url(#c7p02d3b5d28d)" style="fill:#3a76af;stroke:#3a76af;stroke-width:0.4"/>
<path d="M 325.62 141.91 L 325.62 159.82 L 327.4 159.82 L 327.4 141.91 z" clip-path="url(#c7p02d3b5d28d)" style="fill:#3a76af;stroke:#3a76af;stroke-width:0.4"/>
<path d="M 329.83 141.91 L 329.83 159.82 L 331.62 159.82 L 331.62 141.91 z" clip-path="url(#c7p02d3b5d28d)" style="fill:#3a76af;stroke:#3a76af;stroke-width:0.4"/>
<path d="M 335.98 141.91 L 335.98 159.82 L 337.76 159.82 L 337.76 141.91 z" clip-path="url(#c7p02d3b5d28d)" style="fill:#3a76af;stroke:#3a76af;stroke-width:0.4"/>
<path d="M 342.22 141.91 L 342.22 159.82 L 344.01 159.82 L 344.01 141.91 z" clip-path="url(#c7p02d3b5d28d)" style="fill:#3a76af;stroke:#3a76af;stroke-width:0.4"/>
<path d="M 351.33 141.91 L 351.33 159.82 L 353.12 159.82 L 353.12 141.91 z" clip-path="url(#c7p02d3b5d28d)" style="fill:#3a76af;stroke:#3a76af;stroke-width:0.4"/>
<path d="M 361.58 141.91 L 361.58 159.82 L 363.37 159.82 L 363.37 141.91 z" clip-path="url(#c7p02d3b5d28d)" style="fill:#3a76af;stroke:#3a76af;stroke-width:0.4"/>
<path d="M 376.69 141.91 L 376.69 159.82 L 378.47 159.82 L 378.47 141.91 z" clip-path="url(#c7p02d3b5d28d)" style="fill:#3a76af;stroke:#3a76af;stroke-width:0.4"/>
<path d="M 386.33 141.91 L 386.33 159.82 L 388.11 159.82 L 388.11 141.91 z" clip-path="url(#c7p02d3b5d28d)" style="fill:#3a76af;stroke:#3a76af;stroke-width:0.4"/>
<path d="M 388.11 141.91 L 388.11 159.82 L 389.9 159.82 L 389.9 141.91 z" clip-path="url(#c7p02d3b5d28d)" style="fill:#3a76af;stroke:#3a76af;stroke-width:0.4"/>
<path d="M 389.9 141.91 L 389.9 159.82 L 391.69 159.82 L 391.69 141.91 z" clip-path="url(#c7p02d3b5d28d)" style="fill:#3a76af;stroke:#3a76af;stroke-width:0.4"/>
<path d="M 395.51 141.91 L 395.51 159.82 L 397.29 159.82 L 397.29 141.91 z" clip-path="url(#c7p02d3b5d28d)" style="fill:#3a76af;stroke:#3a76af;stroke-width:0.4"/>
<path d="M 407.04 141.91 L 407.04 159.82 L 408.83 159.82 L 408.83 141.91 z" clip-path="url(#c7p02d3b5d28d)" style="fill:#3a76af;stroke:#3a76af;stroke-width:0.4"/>
<path d="M 411.68 141.91 L 411.68 159.82 L 413.47 159.82 L 413.47 141.91 z" clip-path="url(#c7p02d3b5d28d)" style="fill:#3a76af;stroke:#3a76af;stroke-width:0.4"/>
<path d="M 412.76 141.91 L 412.76 159.82 L 414.54 159.82 L 414.54 141.91 z" clip-path="url(#c7p02d3b5d28d)" style="fill:#3a76af;stroke:#3a76af;stroke-width:0.4"/>
<path d="M 129.02 186.69 L 129.02 204.6 L 189.73 204.6 L 189.73 186.69 z" clip-path="url(#c7p02d3b5d28d)" style="fill:#3a76af;stroke:#3a76af;stroke-width:0.4"/>
<path d="M 307.58 186.69 L 307.58 204.6 L 350.44 204.6 L 350.44 186.69 z" clip-path="url(#c7p02d3b5d28d)" style="fill:#3a76af;stroke:#3a76af;stroke-width:0.4"/>
<g clip-path="url(#c7p02d3b5d28d)">
<path transform="translate(0 345.6)" d="M 93.31 -114.14 L 93.31 -96.23 L 146.88 -96.23 L 146.88 -114.14 z" style="fill:#ef8636;stroke:#ef8636"/>
</g>
<path d="M 307.72 276.24 L 307.72 294.15 L 309.5 294.15 L 309.5 276.24 z" clip-path="url(#c7p02d3b5d28d)" style="fill:#519e3e;stroke:#519e3e"/>
<path d="M 322.85 276.24 L 322.85 294.15 L 324.64 294.15 L 324.64 276.24 z" clip-path="url(#c7p02d3b5d28d)" style="fill:#519e3e;stroke:#519e3e"/>
<path d="M 310.9 276.24 L 310.9 294.15 L 312.68 294.15 L 312.68 276.24 z" clip-path="url(#c7p02d3b5d28d)" style="fill:#519e3e;stroke:#519e3e"/>
<path d="M 260 276.24 L 260 294.15 L 261.78 294.15 L 261.78 276.24 z" clip-path="url(#c7p02d3b5d28d)" style="fill:#519e3e;stroke:#519e3e"/>
<path d="M 406.79 276.24 L 406.79 294.15 L 408.57 294.15 L 408.57 276.24 z" clip-path="url(#c7p02d3b5d28d)" style="fill:#519e3e;stroke:#519e3e"/>
<path d="M 309.85 276.24 L 309.85 294.15 L 311.63 294.15 L 311.63 276.24 z" clip-path="url(#c7p02d3b5d28d)" style="fill:#519e3e;stroke:#519e3e"/>
<path d="M 146.14 276.24 L 146.14 294.15 L 147.92 294.15 L 147.92 276.24 z" clip-path="url(#c7p02d3b5d28d)" style="fill:#519e3e;stroke:#519e3e"/>
<path d="M 113.98 276.24 L 113.98 294.15 L 115.77 294.15 L 115.77 276.24 z" clip-path="url(#c7p02d3b5d28d)" style="fill:#519e3e;stroke:#519e3e"/>
<path d="M 306.76 276.24 L 306.76 294.15 L 308.55 294.15 L 308.55 276.24 z" clip-path="url(#c7p02d3b5d28d)" style="fill:#519e3e;stroke:#519e3e"/>
<path d="M 314.71 276.24 L 314.71 294.15 L 316.5 294.15 L 316.5 276.24 z" clip-path="url(#c7p02d3b5d28d)" style="fill:#519e3e;stroke:#519e3e"/>
<path transform="translate(57.6 307.58)" d="M 0 0 L 0 3.5" style="stroke:#000000;stroke-width:0.8"/>
<text x="57.6" y="322.18" style="font-size:10px;text-anchor:middle">0</text>
<path transform="translate(129.02 307.58)" d="M 0 0 L 0 3.5" style="stroke:#000000;stroke-width:0.8"/>
<text x="129.02" y="322.18" style="font-size:10px;text-anchor:middle">2</text>
<path transform="translate(200.45 307.58)" d="M 0 0 L 0 3.5" style="stroke:#000000;stroke-width:0.8"/>
<text x="200.45" y="322.18" style="font-size:10px;text-anchor:middle">4</text>
<path transform="translate(271.87 307.58)" d="M 0 0 L 0 3.5" style="stroke:#000000;stroke-width:0.8"/>
<text x="271.87" y="322.18" style="font-size:10px;text-anchor:middle">6</text>
<path transform="translate(343.3 307.58)" d="M 0 0 L 0 3.5" style="stroke:#000000;stroke-width:0.8"/>
<text x="343.3" y="322.18" style="font-size:10px;text-anchor:middle">8</text>
<path transform="translate(414.72 307.58)" d="M 0 0 L 0 3.5" style="stroke:#000000;stroke-width:0.8"/>
<text x="414.72" y="322.18" style="font-size:10px;text-anchor:middle">10</text>
<path transform="translate(57.6 61.31)" d="M 0 0 L -3.5 0" style="stroke:#000000;stroke-width:0.8"/>
<text x="50.6" y="65.11" style="font-size:10px;text-anchor:end">CPU 1</text>
<path transform="translate(57.6 106.09)" d="M 0 0 L -3.5 0" style="stroke:#000000;stroke-width:0.8"/>
<text x="50.6" y="109.88" style="font-size:10px;text-anchor:end">CPU 2</text>
<path transform="translate(57.6 150.86)" d="M 0 0 L -3.5 0" style="stroke:#000000;stroke-width:0.8"/>
<text x="50.6" y="154.66" style="font-size:10px;text-anchor:end">CPU 3</text>
<path transform="translate(57.6 195.64)" d="M 0 0 L -3.5 0" style="stroke:#000000;stroke-width:0.8"/>
<text x="50.6" y="199.44" style="font-size:10px;text-anchor:end">CPU 4</text>
<path transform="translate(57.6 240.42)" d="M 0 0 L -3.5 0" style="stroke:#000000;stroke-width:0.8"/>
<text x="50.6" y="244.22" style="font-size:10px;text-anchor:end">disk</text>
<path transform="translate(57.6 285.19)" d="M 0 0 L -3.5 0" style="stroke:#000000;stroke-width:0.8"/>
<text x="50.6" y="288.99" style="font-size:10px;text-anchor:end">network</text>
<path d="M 57.6 307.58 L 57.6 41.47" style="fill:none;stroke:#000000;stroke-width:0.8;stroke-linejoin:miter;stroke-linecap:square"/>
<path d="M 414.72 307.58 L 414.72 41.47" style="fill:none;stroke:#000000;stroke-width:0.8;stroke-linejoin:miter;stroke-linecap:square"/>
<path d="M 57.6 307.58 L 414.72 307.58" style="fill:none;stroke:#000000;stroke-width:0.8;stroke-linejoin:miter;stroke-linecap:square"/>
<path d="M 57.6 41.47 L 414.72 41.47" style="fill:none;stroke:#000000;stroke-width:0.8;stroke-linejoin:miter;stroke-linecap:square"/>
<text x="236.16" y="33.97" style="font-size:12px;text-anchor:middle">Resource usage</text>
</svg><div class="title left">Broken horizontal bar<br>plot with gaps</div></div>
<div class="card" style="left:395px;top:1018px;width:342px"><svg class="mpl" preserveAspectRatio="none" style="left:10.70px;top:86.00px" width="320" height="96" viewBox="0 0 288 86.4"><defs><clipPath id="c8pe260b94358"><rect x="0" y="17.28" width="288" height="69.12"/></clipPath></defs>
<path d="M 0 86.4 L 288 86.4 L 288 0 L 0 0 z" style="fill:#ffffff"/>
<path d="M 13.09 69.12 L 65.45 69.12" clip-path="url(#c8pe260b94358)" style="fill:none;stroke:#3a76af;stroke-width:12"/>
<path d="M 13.09 69.12 L 65.45 69.12" clip-path="url(#c8pe260b94358)" style="fill:none;stroke:#000000;stroke-linecap:square"/>
<g clip-path="url(#c8pe260b94358)">
<path transform="translate(13.09 69.12)" d="M 0 1.5 C 0.4 1.5 0.78 1.34 1.06 1.06 C 1.34 0.78 1.5 0.4 1.5 0 C 1.5 -0.4 1.34 -0.78 1.06 -1.06 C 0.78 -1.34 0.4 -1.5 0 -1.5 C -0.4 -1.5 -0.78 -1.34 -1.06 -1.06 C -1.34 -0.78 -1.5 -0.4 -1.5 0 C -1.5 0.4 -1.34 0.78 -1.06 1.06 C -0.78 1.34 -0.4 1.5 0 1.5 z" style="fill:#c53a32;stroke:#c53a32"/>
<path transform="translate(65.45 69.12)" d="M 0 1.5 C 0.4 1.5 0.78 1.34 1.06 1.06 C 1.34 0.78 1.5 0.4 1.5 0 C 1.5 -0.4 1.34 -0.78 1.06 -1.06 C 0.78 -1.34 0.4 -1.5 0 -1.5 C -0.4 -1.5 -0.78 -1.34 -1.06 -1.06 C -1.34 -0.78 -1.5 -0.4 -1.5 0 C -1.5 0.4 -1.34 0.78 -1.06 1.06 C -0.78 1.34 -0.4 1.5 0 1.5 z" style="fill:#c53a32;stroke:#c53a32"/>
</g>
<path d="M 117.82 69.12 L 170.18 69.12" clip-path="url(#c8pe260b94358)" style="fill:none;stroke:#3a76af;stroke-width:12;stroke-linecap:round"/>
<path d="M 117.82 69.12 L 170.18 69.12" clip-path="url(#c8pe260b94358)" style="fill:none;stroke:#000000;stroke-linecap:square"/>
<g clip-path="url(#c8pe260b94358)">
<path transform="translate(117.82 69.12)" d="M 0 1.5 C 0.4 1.5 0.78 1.34 1.06 1.06 C 1.34 0.78 1.5 0.4 1.5 0 C 1.5 -0.4 1.34 -0.78 1.06 -1.06 C 0.78 -1.34 0.4 -1.5 0 -1.5 C -0.4 -1.5 -0.78 -1.34 -1.06 -1.06 C -1.34 -0.78 -1.5 -0.4 -1.5 0 C -1.5 0.4 -1.34 0.78 -1.06 1.06 C -0.78 1.34 -0.4 1.5 0 1.5 z" style="fill:#c53a32;stroke:#c53a32"/>
<path transform="translate(170.18 69.12)" d="M 0 1.5 C 0.4 1.5 0.78 1.34 1.06 1.06 C 1.34 0.78 1.5 0.4 1.5 0 C 1.5 -0.4 1.34 -0.78 1.06 -1.06 C 0.78 -1.34 0.4 -1.5 0 -1.5 C -0.4 -1.5 -0.78 -1.34 -1.06 -1.06 C -1.34 -0.78 -1.5 -0.4 -1.5 0 C -1.5 0.4 -1.34 0.78 -1.06 1.06 C -0.78 1.34 -0.4 1.5 0 1.5 z" style="fill:#c53a32;stroke:#c53a32"/>
</g>
<path d="M 222.55 69.12 L 274.91 69.12" clip-path="url(#c8pe260b94358)" style="fill:none;stroke:#3a76af;stroke-width:12;stroke-linecap:square"/>
<path d="M 222.55 69.12 L 274.91 69.12" clip-path="url(#c8pe260b94358)" style="fill:none;stroke:#000000;stroke-linecap:square"/>
<g clip-path="url(#c8pe260b94358)">
<path transform="translate(222.54 69.12)" d="M 0 1.5 C 0.4 1.5 0.78 1.34 1.06 1.06 C 1.34 0.78 1.5 0.4 1.5 0 C 1.5 -0.4 1.34 -0.78 1.06 -1.06 C 0.78 -1.34 0.4 -1.5 0 -1.5 C -0.4 -1.5 -0.78 -1.34 -1.06 -1.06 C -1.34 -0.78 -1.5 -0.4 -1.5 0 C -1.5 0.4 -1.34 0.78 -1.06 1.06 C -0.78 1.34 -0.4 1.5 0 1.5 z" style="fill:#c53a32;stroke:#c53a32"/>
<path transform="translate(274.91 69.12)" d="M 0 1.5 C 0.4 1.5 0.78 1.34 1.06 1.06 C 1.34 0.78 1.5 0.4 1.5 0 C 1.5 -0.4 1.34 -0.78 1.06 -1.06 C 0.78 -1.34 0.4 -1.5 0 -1.5 C -0.4 -1.5 -0.78 -1.34 -1.06 -1.06 C -1.34 -0.78 -1.5 -0.4 -1.5 0 C -1.5 0.4 -1.34 0.78 -1.06 1.06 C -0.78 1.34 -0.4 1.5 0 1.5 z" style="fill:#c53a32;stroke:#c53a32"/>
</g>
<text x="39.27" y="39.74" style="font-size:10px;text-anchor:middle">butt</text>
<text x="144" y="39.74" style="font-size:10px;text-anchor:middle">round</text>
<text x="248.73" y="39.74" style="font-size:10px;text-anchor:middle">projecting</text>
<text x="144" y="11.28" style="font-size:12px;text-anchor:middle">Cap style</text>
</svg><div class="title">CapStyle</div></div>
<div class="card" style="left:767px;top:1018px;width:341px"><svg class="mpl" preserveAspectRatio="none" style="left:10.20px;top:80.50px" width="320" height="106.67" viewBox="0 0 648 216"><defs><clipPath id="c9pd6ceefd488"><rect x="81" y="25.92" width="147.706" height="166.32"/></clipPath><clipPath id="c9p9d5b20cb5d"><rect x="258.247" y="25.92" width="147.706" height="166.32"/></clipPath><clipPath id="c9pb0baa4481b"><rect x="435.494" y="25.92" width="147.706" height="166.32"/></clipPath></defs>
<path d="M 0 216 L 648 216 L 648 0 L 0 0 z" style="fill:#ffffff"/>
<path d="M 81 192.24 L 228.71 192.24 L 228.71 25.92 L 81 25.92 z" style="fill:#ffffff"/>
<path d="M 87.71 192.24 L 115.98 192.24 L 115.98 113.04 L 87.71 113.04 z" clip-path="url(#c9pd6ceefd488)" style="fill:#3a76af;stroke:#3a76af;stroke-width:0.4"/>
<path d="M 123.05 192.24 L 151.32 192.24 L 151.32 73.44 L 123.05 73.44 z" clip-path="url(#c9pd6ceefd488)" style="fill:#3a76af;stroke:#3a76af;stroke-width:0.4"/>
<path d="M 158.39 192.24 L 186.66 192.24 L 186.66 152.64 L 158.39 152.64 z" clip-path="url(#c9pd6ceefd488)" style="fill:#3a76af;stroke:#3a76af;stroke-width:0.4"/>
<path d="M 193.72 192.24 L 221.99 192.24 L 221.99 33.84 L 193.72 33.84 z" clip-path="url(#c9pd6ceefd488)" style="fill:#3a76af;stroke:#3a76af;stroke-width:0.4"/>
<path transform="translate(101.85 192.24)" d="M 0 0 L 0 3.5" style="stroke:#000000;stroke-width:0.8"/>
<text x="101.85" y="206.84" style="font-size:10px;text-anchor:middle">apple</text>
<path transform="translate(137.19 192.24)" d="M 0 0 L 0 3.5" style="stroke:#000000;stroke-width:0.8"/>
<text x="137.18" y="206.84" style="font-size:10px;text-anchor:middle">orange</text>
<path transform="translate(172.52 192.24)" d="M 0 0 L 0 3.5" style="stroke:#000000;stroke-width:0.8"/>
<text x="172.52" y="206.84" style="font-size:10px;text-anchor:middle">lemon</text>
<path transform="translate(207.86 192.24)" d="M 0 0 L 0 3.5" style="stroke:#000000;stroke-width:0.8"/>
<text x="207.86" y="206.84" style="font-size:10px;text-anchor:middle">lime</text>
<path transform="translate(81 192.24)" d="M 0 0 L -3.5 0" style="stroke:#000000;stroke-width:0.8"/>
<text x="74" y="196.04" style="font-size:10px;text-anchor:end">0</text>
<path transform="translate(81 152.64)" d="M 0 0 L -3.5 0" style="stroke:#000000;stroke-width:0.8"/>
<text x="74" y="156.44" style="font-size:10px;text-anchor:end">5</text>
<path transform="translate(81 113.04)" d="M 0 0 L -3.5 0" style="stroke:#000000;stroke-width:0.8"/>
<text x="74" y="116.84" style="font-size:10px;text-anchor:end">10</text>
<path transform="translate(81 73.44)" d="M 0 0 L -3.5 0" style="stroke:#000000;stroke-width:0.8"/>
<text x="74" y="77.24" style="font-size:10px;text-anchor:end">15</text>
<path transform="translate(81 33.84)" d="M 0 0 L -3.5 0" style="stroke:#000000;stroke-width:0.8"/>
<text x="74" y="37.64" style="font-size:10px;text-anchor:end">20</text>
<path d="M 81 192.24 L 81 25.92" style="fill:none;stroke:#000000;stroke-width:0.8;stroke-linejoin:miter;stroke-linecap:square"/>
<path d="M 228.71 192.24 L 228.71 25.92" style="fill:none;stroke:#000000;stroke-width:0.8;stroke-linejoin:miter;stroke-linecap:square"/>
<path d="M 81 192.24 L 228.71 192.24" style="fill:none;stroke:#000000;stroke-width:0.8;stroke-linejoin:miter;stroke-linecap:square"/>
<path d="M 81 25.92 L 228.71 25.92" style="fill:none;stroke:#000000;stroke-width:0.8;stroke-linejoin:miter;stroke-linecap:square"/>
<path d="M 258.25 192.24 L 405.95 192.24 L 405.95 25.92 L 258.25 25.92 z" style="fill:#ffffff"/>
<g clip-path="url(#c9p9d5b20cb5d)">
<path transform="translate(264.96 113.04)" d="M 0 3 C 0.8 3 1.56 2.68 2.12 2.12 C 2.68 1.56 3 0.8 3 0 C 3 -0.8 2.68 -1.56 2.12 -2.12 C 1.56 -2.68 0.8 -3 0 -3 C -0.8 -3 -1.56 -2.68 -2.12 -2.12 C -2.68 -1.56 -3 -0.8 -3 0 C -3 0.8 -2.68 1.56 -2.12 2.12 C -1.56 2.68 -0.8 3 0 3 z" style="fill:#3a76af;stroke:#3a76af"/>
<path transform="translate(309.72 73.44)" d="M 0 3 C 0.8 3 1.56 2.68 2.12 2.12 C 2.68 1.56 3 0.8 3 0 C 3 -0.8 2.68 -1.56 2.12 -2.12 C 1.56 -2.68 0.8 -3 0 -3 C -0.8 -3 -1.56 -2.68 -2.12 -2.12 C -2.68 -1.56 -3 -0.8 -3 0 C -3 0.8 -2.68 1.56 -2.12 2.12 C -1.56 2.68 -0.8 3 0 3 z" style="fill:#3a76af;stroke:#3a76af"/>
<path transform="translate(354.48 152.64)" d="M 0 3 C 0.8 3 1.56 2.68 2.12 2.12 C 2.68 1.56 3 0.8 3 0 C 3 -0.8 2.68 -1.56 2.12 -2.12 C 1.56 -2.68 0.8 -3 0 -3 C -0.8 -3 -1.56 -2.68 -2.12 -2.12 C -2.68 -1.56 -3 -0.8 -3 0 C -3 0.8 -2.68 1.56 -2.12 2.12 C -1.56 2.68 -0.8 3 0 3 z" style="fill:#3a76af;stroke:#3a76af"/>
<path transform="translate(399.24 33.84)" d="M 0 3 C 0.8 3 1.56 2.68 2.12 2.12 C 2.68 1.56 3 0.8 3 0 C 3 -0.8 2.68 -1.56 2.12 -2.12 C 1.56 -2.68 0.8 -3 0 -3 C -0.8 -3 -1.56 -2.68 -2.12 -2.12 C -2.68 -1.56 -3 -0.8 -3 0 C -3 0.8 -2.68 1.56 -2.12 2.12 C -1.56 2.68 -0.8 3 0 3 z" style="fill:#3a76af;stroke:#3a76af"/>
</g>
<path transform="translate(264.96 192.24)" d="M 0 0 L 0 3.5" style="stroke:#000000;stroke-width:0.8"/>
<text x="264.96" y="206.84" style="font-size:10px;text-anchor:middle">apple</text>
<path transform="translate(309.72 192.24)" d="M 0 0 L 0 3.5" style="stroke:#000000;stroke-width:0.8"/>
<text x="309.72" y="206.84" style="font-size:10px;text-anchor:middle">orange</text>
<path transform="translate(354.48 192.24)" d="M 0 0 L 0 3.5" style="stroke:#000000;stroke-width:0.8"/>
<text x="354.48" y="206.84" style="font-size:10px;text-anchor:middle">lemon</text>
<path transform="translate(399.24 192.24)" d="M 0 0 L 0 3.5" style="stroke:#000000;stroke-width:0.8"/>
<text x="399.24" y="206.84" style="font-size:10px;text-anchor:middle">lime</text>
<path transform="translate(258.25 192.24)" d="M 0 0 L -3.5 0" style="stroke:#000000;stroke-width:0.8"/>
<path transform="translate(258.25 152.64)" d="M 0 0 L -3.5 0" style="stroke:#000000;stroke-width:0.8"/>
<path transform="translate(258.25 113.04)" d="M 0 0 L -3.5 0" style="stroke:#000000;stroke-width:0.8"/>
<path transform="translate(258.25 73.44)" d="M 0 0 L -3.5 0" style="stroke:#000000;stroke-width:0.8"/>
<path transform="translate(258.25 33.84)" d="M 0 0 L -3.5 0" style="stroke:#000000;stroke-width:0.8"/>
<path d="M 258.25 192.24 L 258.25 25.92" style="fill:none;stroke:#000000;stroke-width:0.8;stroke-linejoin:miter;stroke-linecap:square"/>
<path d="M 405.95 192.24 L 405.95 25.92" style="fill:none;stroke:#000000;stroke-width:0.8;stroke-linejoin:miter;stroke-linecap:square"/>
<path d="M 258.25 192.24 L 405.95 192.24" style="fill:none;stroke:#000000;stroke-width:0.8;stroke-linejoin:miter;stroke-linecap:square"/>
<path d="M 258.25 25.92 L 405.95 25.92" style="fill:none;stroke:#000000;stroke-width:0.8;stroke-linejoin:miter;stroke-linecap:square"/>
<path d="M 435.49 192.24 L 583.2 192.24 L 583.2 25.92 L 435.49 25.92 z" style="fill:#ffffff"/>
<path transform="translate(442.21 192.24)" d="M 0 0 L 0 3.5" style="stroke:#000000;stroke-width:0.8"/>
<text x="442.21" y="206.84" style="font-size:10px;text-anchor:middle">apple</text>
<path transform="translate(486.97 192.24)" d="M 0 0 L 0 3.5" style="stroke:#000000;stroke-width:0.8"/>
<text x="486.97" y="206.84" style="font-size:10px;text-anchor:middle">orange</text>
<path transform="translate(531.73 192.24)" d="M 0 0 L 0 3.5" style="stroke:#000000;stroke-width:0.8"/>
<text x="531.73" y="206.84" style="font-size:10px;text-anchor:middle">lemon</text>
<path transform="translate(576.49 192.24)" d="M 0 0 L 0 3.5" style="stroke:#000000;stroke-width:0.8"/>
<text x="576.49" y="206.84" style="font-size:10px;text-anchor:middle">lime</text>
<path transform="translate(435.49 192.24)" d="M 0 0 L -3.5 0" style="stroke:#000000;stroke-width:0.8"/>
<path transform="translate(435.49 152.64)" d="M 0 0 L -3.5 0" style="stroke:#000000;stroke-width:0.8"/>
<path transform="translate(435.49 113.04)" d="M 0 0 L -3.5 0" style="stroke:#000000;stroke-width:0.8"/>
<path transform="translate(435.49 73.44)" d="M 0 0 L -3.5 0" style="stroke:#000000;stroke-width:0.8"/>
<path transform="translate(435.49 33.84)" d="M 0 0 L -3.5 0" style="stroke:#000000;stroke-width:0.8"/>
<path d="M 442.21 113.04 L 486.97 73.44 L 531.73 152.64 L 576.49 33.84" clip-path="url(#c9pb0baa4481b)" style="fill:none;stroke:#3a76af;stroke-width:1.5;stroke-linecap:square"/>
<path d="M 435.49 192.24 L 435.49 25.92" style="fill:none;stroke:#000000;stroke-width:0.8;stroke-linejoin:miter;stroke-linecap:square"/>
<path d="M 583.2 192.24 L 583.2 25.92" style="fill:none;stroke:#000000;stroke-width:0.8;stroke-linejoin:miter;stroke-linecap:square"/>
<path d="M 435.49 192.24 L 583.2 192.24" style="fill:none;stroke:#000000;stroke-width:0.8;stroke-linejoin:miter;stroke-linecap:square"/>
<path d="M 435.49 25.92 L 583.2 25.92" style="fill:none;stroke:#000000;stroke-width:0.8;stroke-linejoin:miter;stroke-linecap:square"/>
<text x="324" y="13.44" style="font-size:12px;text-anchor:middle">Categorical Plotting</text>
</svg><div class="title left">Plotting categorical<br>variables</div></div>
</body></html>
